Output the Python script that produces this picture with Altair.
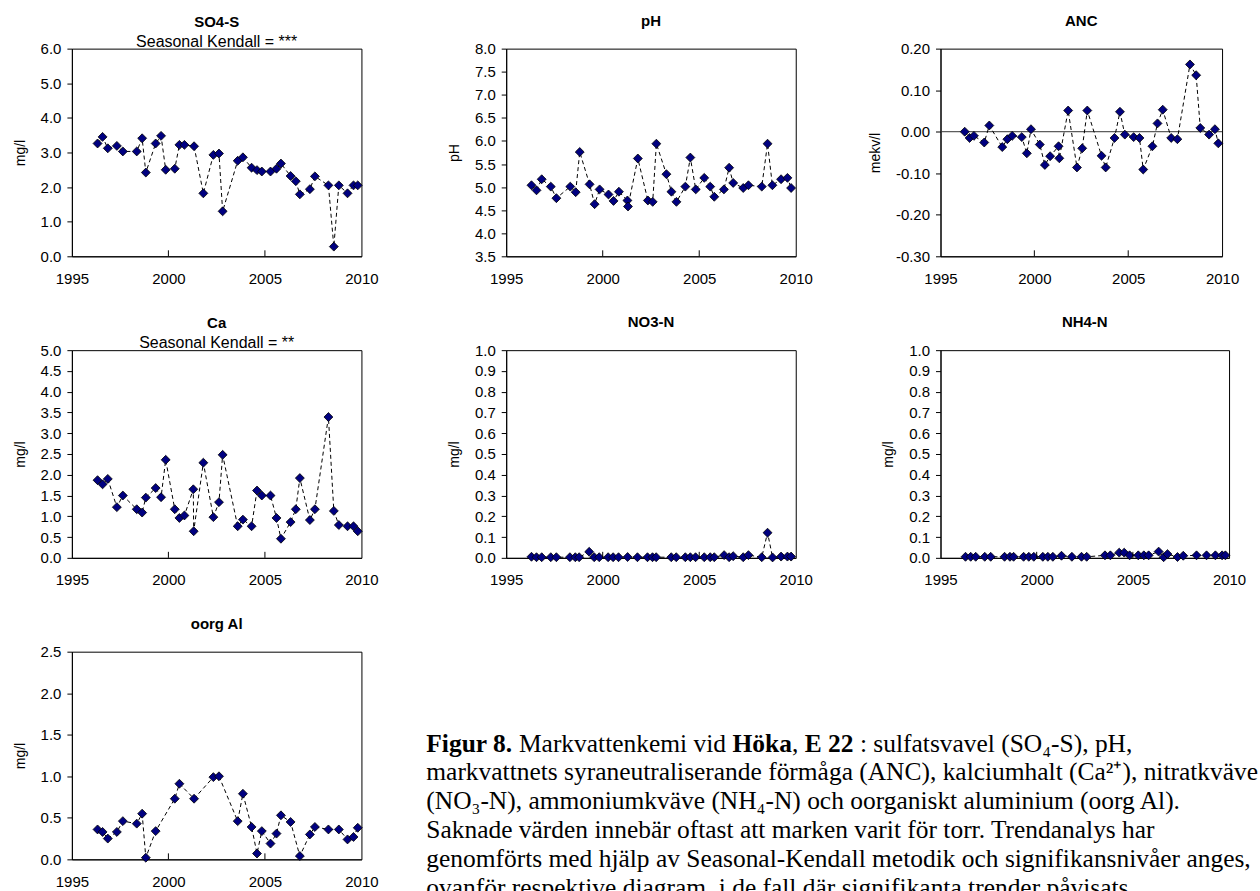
import altair as alt
import pandas as pd

# ---------------- data ----------------
tick_years = [2000, 2005]
x_labels = [1995, 2000, 2005, 2010]

so4_x = [1996.33, 1996.59, 1996.86, 1997.33, 1997.64, 1998.36, 1998.64, 1998.83, 1999.34, 1999.62,
         1999.86, 2000.33, 2000.57, 2000.83, 2001.33, 2001.81, 2002.33, 2002.62, 2002.81, 2003.59,
         2003.86, 2004.31, 2004.59, 2004.84, 2005.29, 2005.60, 2005.83, 2006.33, 2006.60, 2006.81,
         2007.33, 2007.59, 2008.29, 2008.57, 2008.83, 2009.28, 2009.59, 2009.81]
so4_y = [3.26, 3.45, 3.12, 3.19, 3.03, 3.03, 3.41, 2.42, 3.26, 3.48,
         2.50, 2.53, 3.22, 3.22, 3.18, 1.82, 2.93, 2.97, 1.30, 2.76,
         2.86, 2.56, 2.49, 2.45, 2.45, 2.53, 2.68, 2.32, 2.17, 1.79,
         1.94, 2.31, 2.05, 0.28, 2.05, 1.82, 2.05, 2.05]

ph_x = [1996.31, 1996.57, 1996.84, 1997.31, 1997.60, 1998.32, 1998.60, 1998.81, 1999.32, 1999.58,
        1999.84, 2000.30, 2000.56, 2000.84, 2001.28, 2001.31, 2001.82, 2002.34, 2002.59, 2002.78,
        2003.30, 2003.56, 2003.82, 2004.28, 2004.54, 2004.82, 2005.26, 2005.57, 2005.78, 2006.28,
        2006.55, 2006.76, 2007.28, 2007.55, 2008.24, 2008.54, 2008.79, 2009.24, 2009.57, 2009.76]
ph_y = [5.04, 4.93, 5.17, 5.01, 4.76, 5.01, 4.89, 5.76, 5.06, 4.63,
        4.95, 4.84, 4.70, 4.90, 4.71, 4.58, 5.62, 4.71, 4.68, 5.94,
        5.28, 4.90, 4.68, 5.01, 5.64, 4.95, 5.20, 5.01, 4.79, 4.95,
        5.42, 5.09, 4.98, 5.04, 5.01, 5.94, 5.04, 5.17, 5.20, 4.98]

anc_x = [1996.29, 1996.55, 1996.78, 1997.33, 1997.60, 1998.29, 1998.56, 1998.82, 1999.33, 1999.60,
         1999.82, 2000.29, 2000.56, 2000.84, 2001.29, 2001.33, 2001.80, 2002.27, 2002.55, 2002.82,
         2003.58, 2003.80, 2004.27, 2004.56, 2004.82, 2005.29, 2005.60, 2005.80, 2006.29, 2006.56,
         2006.84, 2007.29, 2007.62, 2008.29, 2008.62, 2008.84, 2009.31, 2009.62, 2009.80]
anc_y = [0.000, -0.015, -0.010, -0.026, 0.015, -0.037, -0.018, -0.010, -0.013, -0.052,
         0.006, -0.031, -0.080, -0.059, -0.035, -0.064, 0.051, -0.086, -0.040, 0.051,
         -0.058, -0.086, -0.015, 0.048, -0.007, -0.013, -0.015, -0.091, -0.035, 0.020,
         0.053, -0.015, -0.018, 0.162, 0.136, 0.009, -0.007, 0.006, -0.028]

ca_x = [1996.33, 1996.59, 1996.86, 1997.33, 1997.64, 1998.36, 1998.64, 1998.83, 1999.34, 1999.62,
        1999.86, 2000.33, 2000.57, 2000.83, 2001.29, 2001.31, 2001.81, 2002.33, 2002.62, 2002.81,
        2003.59, 2003.86, 2004.31, 2004.59, 2004.84, 2005.29, 2005.60, 2005.83, 2006.33, 2006.60,
        2006.81, 2007.33, 2007.59, 2008.29, 2008.57, 2008.83, 2009.28, 2009.59, 2009.81]
ca_y = [1.87, 1.77, 1.90, 1.22, 1.50, 1.17, 1.09, 1.45, 1.68, 1.46,
        2.36, 1.17, 0.96, 1.02, 1.65, 0.64, 2.29, 0.98, 1.34, 2.48,
        0.76, 0.92, 0.76, 1.62, 1.50, 1.50, 0.96, 0.46, 0.86, 1.17,
        1.92, 0.91, 1.17, 3.39, 1.13, 0.79, 0.76, 0.76, 0.64]

no3_x = [1996.31, 1996.57, 1996.84, 1997.31, 1997.60, 1998.30, 1998.58, 1998.78, 1999.30, 1999.56,
         1999.82, 2000.28, 2000.54, 2000.82, 2001.29, 2001.80, 2002.32, 2002.58, 2002.77, 2003.55,
         2003.81, 2004.28, 2004.54, 2004.81, 2005.26, 2005.57, 2005.78, 2006.29, 2006.55, 2006.76,
         2007.28, 2007.55, 2008.24, 2008.54, 2008.80, 2009.24, 2009.57, 2009.76]
no3_y = [0.005, 0.003, 0.003, 0.003, 0.003, 0.003, 0.003, 0.003, 0.029, 0.003,
         0.003, 0.003, 0.003, 0.003, 0.004, 0.003, 0.003, 0.003, 0.003, 0.003,
         0.003, 0.003, 0.003, 0.003, 0.003, 0.003, 0.003, 0.013, 0.003, 0.008,
         0.003, 0.013, 0.003, 0.121, 0.002, 0.006, 0.006, 0.006]

nh4_x = [1996.30, 1996.57, 1996.83, 1997.30, 1997.61, 1998.33, 1998.61, 1998.80, 1999.32, 1999.59,
         1999.85, 2000.32, 2000.58, 2000.84, 2001.29, 2001.83, 2002.33, 2002.60, 2003.55, 2003.83,
         2004.29, 2004.55, 2004.83, 2005.28, 2005.57, 2005.82, 2006.34, 2006.60, 2006.80, 2007.32,
         2007.62, 2008.31, 2008.83, 2009.29, 2009.64, 2009.81]
nh4_y = [0.005, 0.005, 0.005, 0.005, 0.005, 0.005, 0.005, 0.005, 0.005, 0.005,
         0.005, 0.005, 0.005, 0.005, 0.010, 0.005, 0.005, 0.005, 0.012, 0.012,
         0.025, 0.025, 0.012, 0.012, 0.012, 0.012, 0.030, 0.003, 0.018, 0.004,
         0.010, 0.012, 0.012, 0.012, 0.012, 0.012]

al_x = [1996.33, 1996.59, 1996.86, 1997.33, 1997.64, 1998.36, 1998.64, 1998.83, 1999.34, 2000.33,
        2000.57, 2001.33, 2002.33, 2002.62, 2003.59, 2003.86, 2004.31, 2004.59, 2004.84, 2005.29,
        2005.60, 2005.83, 2006.33, 2006.81, 2007.33, 2007.59, 2008.29, 2008.83, 2009.28, 2009.59,
        2009.81]
al_y = [0.36, 0.33, 0.25, 0.33, 0.46, 0.43, 0.55, 0.02, 0.34, 0.73,
        0.91, 0.73, 0.99, 1.00, 0.46, 0.79, 0.39, 0.07, 0.34, 0.19,
        0.31, 0.53, 0.45, 0.04, 0.30, 0.39, 0.36, 0.36, 0.24, 0.27,
        0.38]

# ---------------- styling ----------------
SANS = "Liberation Sans"
SERIF = "Liberation Serif"
H = 208
MARKER_FILL = "#000080"


def panel(xs, ys, title, subtitle, ytitle, ydom, yvals, yfmt, width, zero_line=False):
    df = pd.DataFrame({"year": xs, "value": ys})
    xenc = alt.X(
        "year:Q",
        scale=alt.Scale(domain=[1995, 2010], nice=False, zero=False),
        axis=alt.Axis(values=x_labels, format="d", title=None, grid=False, ticks=False,
                      tickSize=0, labelPadding=15, labelFontSize=15, labelFont=SANS,
                      labelColor="black", domainColor="black", labelFlush=False),
    )
    yscale = alt.Scale(domain=ydom, nice=False, zero=False)
    yaxis = alt.Axis(values=yvals, format=yfmt, title=ytitle, grid=False, tickSize=5,
                     labelPadding=6, labelFontSize=15, labelFont=SANS, labelColor="black",
                     labelExpr="replace(datum.label, '\u2212', '-')",
                     titleFont=SANS, titleFontSize=14, titleFontWeight="normal",
                     titleColor="black", titlePadding=13, domainColor="black",
                     tickColor="black")
    yenc = alt.Y("value:Q", scale=yscale, axis=yaxis)

    base = alt.Chart(df)
    layers = []
    if zero_line:
        layers.append(
            alt.Chart(pd.DataFrame({"z": [0]})).mark_rule(color="#333333", strokeWidth=1)
            .encode(y=alt.Y("z:Q", scale=yscale, axis=yaxis))
        )
    layers.append(
        base.mark_line(color="black", strokeWidth=1, strokeDash=[4, 3]).encode(x=xenc, y=yenc)
    )
    layers.append(
        base.mark_point(shape="diamond", filled=True, fill=MARKER_FILL, stroke="black",
                        strokeWidth=0.8, size=80, opacity=1).encode(x=xenc, y=yenc)
    )
    layers.append(
        alt.Chart(pd.DataFrame({"year": tick_years})).mark_rule(color="black", strokeWidth=1)
        .encode(x=xenc, y=alt.value(H), y2=alt.value(H - 6))
    )
    if subtitle:
        t = alt.TitleParams(text=title, subtitle=subtitle, font=SANS, fontSize=15,
                            fontWeight="bold", color="black", subtitleFont=SANS,
                            subtitleFontSize=16, subtitleColor="black", subtitlePadding=4,
                            offset=-8, anchor="middle")
    else:
        t = alt.TitleParams(text=title, font=SANS, fontSize=15, fontWeight="bold",
                            color="black", offset=13, anchor="middle")
    return alt.layer(*layers).properties(width=width, height=H, title=t)


p1 = panel(so4_x, so4_y, "SO4-S", "Seasonal Kendall = ***", "mg/l", [0, 6],
           [0, 1, 2, 3, 4, 5, 6], ".1f", 290)
p2 = panel(ph_x, ph_y, "pH", None, "pH", [3.5, 8],
           [3.5, 4, 4.5, 5, 5.5, 6, 6.5, 7, 7.5, 8], ".1f", 290)
p3 = panel(anc_x, anc_y, "ANC", None, "mekv/l", [-0.3, 0.2],
           [-0.3, -0.2, -0.1, 0, 0.1, 0.2], ".2f", 282, zero_line=True)
p4 = panel(ca_x, ca_y, "Ca", "Seasonal Kendall = **", "mg/l", [0, 5],
           [0, 0.5, 1, 1.5, 2, 2.5, 3, 3.5, 4, 4.5, 5], ".1f", 290)
p5 = panel(no3_x, no3_y, "NO3-N", None, "mg/l", [0, 1],
           [0, 0.1, 0.2, 0.3, 0.4, 0.5, 0.6, 0.7, 0.8, 0.9, 1.0], ".1f", 290)
p6 = panel(nh4_x, nh4_y, "NH4-N", None, "mg/l", [0, 1],
           [0, 0.1, 0.2, 0.3, 0.4, 0.5, 0.6, 0.7, 0.8, 0.9, 1.0], ".1f", 289)
p7 = panel(al_x, al_y, "oorg Al", None, "mg/l", [0, 2.5],
           [0, 0.5, 1, 1.5, 2, 2.5], ".1f", 290)

# ---------------- caption ----------------
cap_lines = [
    [("Figur 8.", "bold", 0), ("Markvattenkemi vid", "normal", 92.8), ("Höka", "bold", 306.7),
     (",", "normal", 366.2), ("E 22", "bold", 379.0), (": sulfatsvavel (SO₄-S), pH,", "normal", 434.3)],
    [("markvattnets syraneutraliserande förmåga (ANC), kalciumhalt (Ca²⁺), nitratkväve", "normal", 0)],
    [("(NO₃-N), ammoniumkväve (NH₄-N) och oorganiskt aluminium (oorg Al).", "normal", 0)],
    [("Saknade värden innebär oftast att marken varit för torr. Trendanalys har", "normal", 0)],
    [("genomförts med hjälp av Seasonal-Kendall metodik och signifikansnivåer anges,", "normal", 0)],
    [("ovanför respektive diagram, i de fall där signifikanta trender påvisats.", "normal", 0)],
]
CAP_X0 = -80
CAP_Y0 = 92
CAP_DY = 29
cap_layers = []
one = pd.DataFrame({"k": [0]})
for i, segs in enumerate(cap_lines):
    for txt, weight, dx in segs:
        cap_layers.append(
            alt.Chart(one).mark_text(font=SERIF, fontSize=25.5, fontWeight=weight, align="left",
                                     baseline="middle", color="black")
            .encode(x=alt.value(CAP_X0 + dx), y=alt.value(CAP_Y0 + i * CAP_DY),
                    text=alt.value(txt))
        )
caption = alt.layer(*cap_layers).properties(width=290, height=H,
                                           view=alt.ViewBackground(stroke="transparent"))

chart = alt.ConcatChart(
    concat=[p1, p2, p3, p4, p5, p6, p7, caption],
    columns=3,
    spacing={"row": 94, "column": 145},
    bounds="flush",
).configure(
    font=SANS,
    padding={"left": 12, "top": 12, "right": 0, "bottom": 0},
    background="white",
).configure_view(stroke="black", strokeWidth=1)

chart.save("out.html", embed_options={"renderer": "svg", "actions": False})
